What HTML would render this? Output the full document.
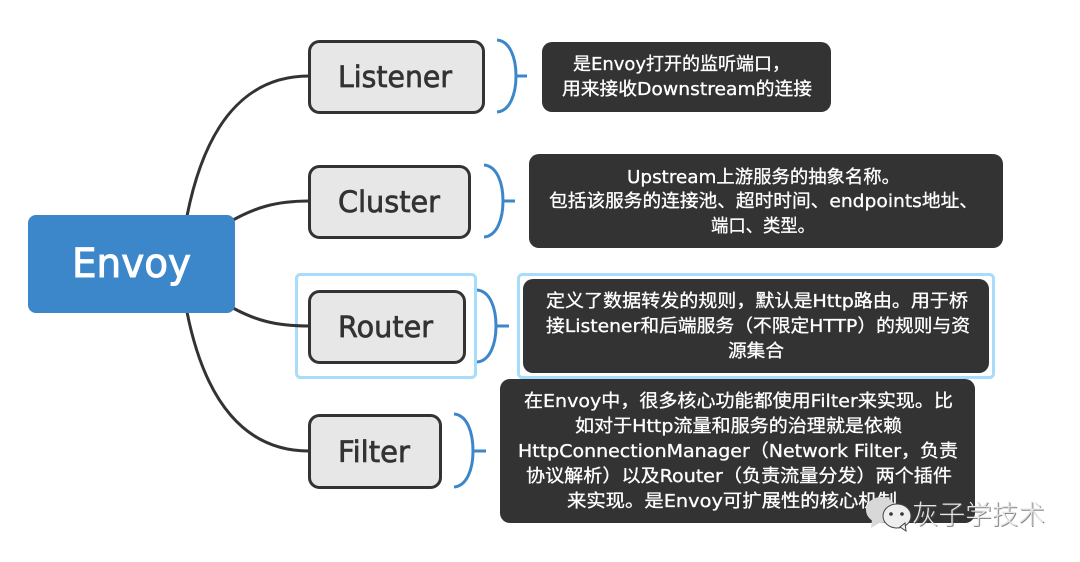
<!DOCTYPE html>
<html lang="zh">
<head>
<meta charset="utf-8">
<title>Envoy</title>
<style>
html,body{margin:0;padding:0;background:#fff;width:1080px;height:562px;overflow:hidden}
svg{display:block}
.n{font-family:"DejaVu Sans","Liberation Sans",sans-serif;font-size:29px;fill:#333;stroke:#333;stroke-width:.7px}
.t{font-family:"DejaVu Sans","Noto Sans CJK SC",sans-serif;font-size:18px;fill:#fff;stroke:#fff;stroke-width:.3px}
</style>
</head>
<body>
<svg width="1080" height="562" viewBox="0 0 1080 562" xmlns="http://www.w3.org/2000/svg">
<rect width="1080" height="562" fill="#fff"/>
<!-- highlights -->
<g fill="none" stroke="#a8dcfb" stroke-width="3">
<rect x="296.500" y="274.500" width="179" height="103" rx="4"/>
<rect x="518.500" y="274.500" width="475" height="103" rx="4"/>
</g>
<!-- connectors -->
<g fill="none" stroke="#333" stroke-width="3">
<path d="M309 76C245 76 205 125 187 216"/>
<path d="M309 201C275 201 255 208 233 220"/>
<path d="M309 326C275 326 255 320 233 308"/>
<path d="M309 451C245 451 205 402 187 312"/>
</g>
<!-- root -->
<rect x="28" y="215" width="207" height="98" rx="8" fill="#3c86ca"/>
<text x="72" y="277" font-family="DejaVu Sans,sans-serif" font-size="40" fill="#fff" stroke="#fff" stroke-width="1" textLength="119" lengthAdjust="spacingAndGlyphs">Envoy</text>
<!-- nodes -->
<g fill="#e7e7e7" stroke="#333" stroke-width="3">
<rect x="309.500" y="41.500" width="174" height="71" rx="10"/>
<rect x="309.500" y="166.500" width="160" height="71" rx="10"/>
<rect x="309.500" y="291.500" width="155" height="71" rx="10"/>
<rect x="309.500" y="415.500" width="131" height="72" rx="10"/>
</g>
<text class="n" x="338" y="87" textLength="114" lengthAdjust="spacingAndGlyphs">Listener</text>
<text class="n" x="338" y="212" textLength="102" lengthAdjust="spacingAndGlyphs">Cluster</text>
<text class="n" x="338" y="337" textLength="95" lengthAdjust="spacingAndGlyphs">Router</text>
<text class="n" x="338" y="462" textLength="72" lengthAdjust="spacingAndGlyphs">Filter</text>
<!-- brackets -->
<g fill="none" stroke="#3c86ca" stroke-width="3">
<path d="M497 40C510 41 516 58 516 76C516 94 510 111 497 112M516 76H527"/>
<path d="M484 165C497 166 503 183 503 201C503 219 497 236 484 237M503 201H515"/>
<path d="M477 290C490 291 496 308 496 326C496 344 490 361 477 362M496 326H509"/>
<path d="M454 414C467 415 473 432 473 451C473 469 467 486 454 487M473 451H486"/>
</g>
<!-- dark boxes -->
<g fill="#333">
<rect x="542" y="42" width="289" height="70" rx="10"/>
<rect x="529" y="154" width="474" height="94" rx="10"/>
<rect x="523" y="279" width="466" height="94" rx="10"/>
<rect x="500" y="379" width="475" height="144" rx="10"/>
</g>
<text class="t" x="573" y="70" textLength="217" lengthAdjust="spacingAndGlyphs">是Envoy打开的监听端口，</text>
<text class="t" x="562" y="95" textLength="250" lengthAdjust="spacingAndGlyphs">用来接收Downstream的连接</text>
<text class="t" x="627" y="183" textLength="273" lengthAdjust="spacingAndGlyphs">Upstream上游服务的抽象名称。</text>
<text class="t" x="549" y="207" textLength="429" lengthAdjust="spacingAndGlyphs">包括该服务的连接池、超时时间、endpoints地址、</text>
<text class="t" x="711" y="232" textLength="104" lengthAdjust="spacingAndGlyphs">端口、类型。</text>
<text class="t" x="546" y="307" textLength="422" lengthAdjust="spacingAndGlyphs">定义了数据转发的规则，默认是Http路由。用于桥</text>
<text class="t" x="546" y="332" textLength="424" lengthAdjust="spacingAndGlyphs">接Listener和后端服务（不限定HTTP）的规则与资</text>
<text class="t" x="728" y="357" textLength="56" lengthAdjust="spacingAndGlyphs">源集合</text>
<text class="t" x="524" y="407" textLength="429" lengthAdjust="spacingAndGlyphs">在Envoy中，很多核心功能都使用Filter来实现。比</text>
<text class="t" x="575" y="432" textLength="327" lengthAdjust="spacingAndGlyphs">如对于Http流量和服务的治理就是依赖</text>
<text class="t" x="518" y="457" textLength="440" lengthAdjust="spacingAndGlyphs">HttpConnectionManager（Network Filter，负责</text>
<text class="t" x="526" y="482" textLength="426" lengthAdjust="spacingAndGlyphs">协议解析）以及Router（负责流量分发）两个插件</text>
<text class="t" x="567" y="507" textLength="330" lengthAdjust="spacingAndGlyphs">来实现。是Envoy可扩展性的核心机制</text>
<!-- watermark -->
<g>
<ellipse cx="881" cy="510" rx="15" ry="13" fill="#d8d8d8"/>
<path d="M872 519L871 528L881 522Z" fill="#d8d8d8"/>
<ellipse cx="897" cy="516" rx="14" ry="12" fill="#eee" stroke="#444" stroke-width="1"/>
<path d="M900 527L906 531L905 523Z" fill="#eee" stroke="#444" stroke-width="1"/>
<circle cx="891" cy="514" r="1.800" fill="#333"/>
<circle cx="902" cy="514" r="1.800" fill="#333"/>
<text x="912" y="524" font-family="Noto Sans CJK SC,sans-serif" font-weight="300" font-size="26.500" fill="#555" opacity=".7" transform="translate(1 1)" textLength="133" lengthAdjust="spacingAndGlyphs">灰子学技术</text>
<text x="912" y="524" font-family="Noto Sans CJK SC,sans-serif" font-weight="300" font-size="26.500" fill="#e6e6e6" textLength="133" lengthAdjust="spacingAndGlyphs">灰子学技术</text>
</g>
</svg>
</body>
</html>
